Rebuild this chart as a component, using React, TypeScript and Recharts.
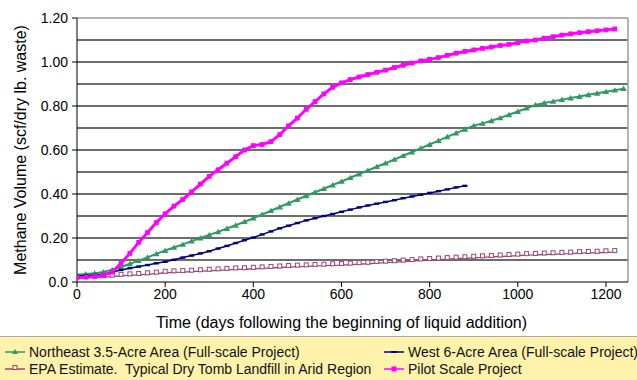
import { LineChart, Line, XAxis, YAxis, ReferenceLine, Label } from "recharts";

// days since beginning of liquid addition (20-day steps)
const days = [
  0, 20, 40, 60, 80, 100, 120, 140, 160, 180, 200, 220, 240, 260, 280, 300, 320, 340, 360, 380,
  400, 420, 440, 460, 480, 500, 520, 540, 560, 580, 600, 620, 640, 660, 680, 700, 720, 740, 760, 780,
  800, 820, 840, 860, 880, 900, 920, 940, 960, 980, 1000, 1020, 1040, 1060, 1080, 1100, 1120, 1140, 1160, 1180,
  1200, 1220, 1240,
];

const northeast = [
  0.032, 0.036, 0.04, 0.046, 0.056, 0.068, 0.083, 0.097, 0.112, 0.128, 0.143, 0.157, 0.171, 0.186, 0.2, 0.214, 0.228, 0.243, 0.258, 0.274,
  0.29, 0.307, 0.324, 0.341, 0.358, 0.375, 0.392, 0.408, 0.424, 0.441, 0.457, 0.474, 0.491, 0.507, 0.524, 0.54, 0.557, 0.574, 0.591, 0.608,
  0.625, 0.643, 0.66, 0.677, 0.694, 0.71, 0.721, 0.733, 0.746, 0.76, 0.775, 0.79, 0.805, 0.814, 0.821, 0.829, 0.836, 0.843, 0.851, 0.858,
  0.865, 0.872, 0.879,
];

const west = [
  0.028, 0.03, 0.032, 0.036, 0.045, 0.055, 0.063, 0.07, 0.077, 0.085, 0.092, 0.101, 0.111, 0.12, 0.13, 0.14, 0.152, 0.164, 0.177, 0.19,
  0.202, 0.216, 0.23, 0.244, 0.256, 0.268, 0.28, 0.29, 0.3, 0.309, 0.319, 0.329, 0.339, 0.348, 0.356, 0.364, 0.372, 0.381, 0.389, 0.397,
  0.405, 0.413, 0.421, 0.43, 0.437, null, null, null, null, null, null, null, null, null, null, null, null, null, null, null,
  null, null, null,
];

const epa = [
  0.02, 0.02, 0.021, 0.022, 0.025, 0.028, 0.03, 0.032, 0.035, 0.038, 0.042, 0.044, 0.045, 0.047, 0.049, 0.051, 0.053, 0.055, 0.057, 0.058,
  0.06, 0.062, 0.064, 0.066, 0.068, 0.07, 0.071, 0.073, 0.074, 0.076, 0.077, 0.079, 0.081, 0.083, 0.086, 0.088, 0.09, 0.093, 0.095, 0.098,
  0.1, 0.102, 0.104, 0.106, 0.108, 0.11, 0.112, 0.114, 0.116, 0.118, 0.12, 0.122, 0.123, 0.125, 0.126, 0.128, 0.129, 0.131, 0.132, 0.133,
  0.135, 0.136, null,
];

const pilot = [
  0.02, 0.022, 0.025, 0.03, 0.045, 0.085, 0.13, 0.18, 0.225, 0.27, 0.31, 0.345, 0.375, 0.41, 0.445, 0.48, 0.51, 0.54, 0.57, 0.6,
  0.62, 0.625, 0.638, 0.67, 0.71, 0.745, 0.785, 0.82, 0.855, 0.885, 0.905, 0.92, 0.932, 0.943, 0.953, 0.963, 0.975, 0.985, 0.995, 1.005,
  1.012, 1.02, 1.03, 1.04, 1.048, 1.055, 1.062, 1.068, 1.075, 1.08, 1.088, 1.095, 1.1, 1.108, 1.115, 1.122, 1.128, 1.133, 1.138, 1.142,
  1.146, 1.15, null,
];

const xTicks = [0, 200, 400, 600, 800, 1000, 1200];
const yTicks = [0, 0.2, 0.4, 0.6, 0.8, 1.0, 1.2];
const gridLevels = [0.1, 0.2, 0.3, 0.4, 0.5, 0.6, 0.7, 0.8, 0.9, 1.0, 1.1];

const legendNames = {
  northeast: "Northeast 3.5-Acre Area (Full-scale Project)",
  west: "West 6-Acre Area (Full-scale Project)",
  epa: "EPA Estimate.  Typical Dry Tomb Landfill in Arid Region",
  pilot: "Pilot Scale Project",
};

const data = days.map((d, i) => ({
  day: d,
  northeast: northeast[i],
  west: west[i],
  epa: epa[i],
  pilot: pilot[i],
}));

const GREEN = "#2f9a62";
const NAVY = "#000080";
const PLUM = "#9c4573";
const MAGENTA = "#ff00ff";
const FONT = "'Liberation Sans', Arial, sans-serif";

const ok = (p: any) => p && p.cx != null && p.cy != null && p.value != null;

const triangleDot = (p: any) =>
  ok(p) ? (
    <path key={p.index} d={`M${p.cx - 3.2},${p.cy + 2.4} L${p.cx + 3.2},${p.cy + 2.4} L${p.cx},${p.cy - 3} Z`} fill={GREEN} />
  ) : null;

const dashDot = (p: any) =>
  ok(p) ? <rect key={p.index} x={p.cx - 2.5} y={p.cy - 1.2} width={5} height={2.4} fill={NAVY} /> : null;

const hollowSquare = (p: any) =>
  ok(p) ? (
    <rect key={p.index} x={p.cx - 2} y={p.cy - 3.5} width={4} height={4} fill="#fff" stroke={PLUM} strokeWidth={1} />
  ) : null;

const filledSquare = (p: any) =>
  ok(p) ? <rect key={p.index} x={p.cx - 2.4} y={p.cy - 2.4} width={4.8} height={4.8} fill={MAGENTA} /> : null;

function LegendMark({ color, kind }: { color: string; kind: string }) {
  return (
    <svg width={22} height={10} style={{ position: "absolute", left: 0, top: 4 }}>
      <line x1={1} y1={5} x2={21} y2={5} stroke={color} strokeWidth={1.5} />
      {kind === "tri" && <path d="M8,7 L14,7 L11,2 Z" fill={color} />}
      {kind === "dash" && <rect x={8} y={4} width={6} height={2} fill={color} />}
      {kind === "hollow" && <rect x={9} y={1.5} width={4} height={4} fill="#fff2aa" stroke={color} strokeWidth={1} />}
      {kind === "square" && <rect x={8.5} y={2.5} width={5} height={5} fill={color} />}
    </svg>
  );
}

function LegendItem({ x, y, color, kind, text }: any) {
  return (
    <div style={{ position: "absolute", left: x, top: y, height: 18, whiteSpace: "pre" }}>
      <LegendMark color={color} kind={kind} />
      <span style={{ position: "absolute", left: 25, top: 0, lineHeight: "18px", fontSize: 14, color: "#111", whiteSpace: "pre" }}>
        {text}
      </span>
    </div>
  );
}

export default function App() {
  return (
    <div style={{ position: "absolute", left: 0, top: 0, width: 637, height: 380, background: "#fff", overflow: "hidden", fontFamily: FONT }}>
      <LineChart width={637} height={336} data={data} margin={{ top: 18, right: 9, left: 0, bottom: 0 }}>
        {gridLevels.map((g) => (
          <ReferenceLine key={g} y={g} stroke="#3c3c3c" strokeWidth={1.5} />
        ))}
        <ReferenceLine y={1.2} stroke="#9a9a9a" strokeWidth={1.5} />
        <ReferenceLine x={1250} stroke="#9a9a9a" strokeWidth={1.5} />
        <XAxis
          dataKey="day"
          type="number"
          domain={[0, 1250]}
          ticks={xTicks}
          height={54}
          tickSize={5}
          stroke="#000"
          tick={{ fill: "#000", fontSize: 14, fontFamily: FONT }}
          allowDataOverflow
        >
          <Label
            content={(p: any) => (
              <text
                x={p.viewBox.x + p.viewBox.width / 2 - 11}
                y={p.viewBox.y + 40}
                textAnchor="middle"
                dominantBaseline="central"
                fontSize={16}
                fontFamily={FONT}
                fill="#000"
              >
                Time (days following the beginning of liquid addition)
              </text>
            )}
          />
        </XAxis>
        <YAxis
          type="number"
          domain={[0, 1.2]}
          ticks={yTicks}
          width={77}
          tickSize={5}
          tickMargin={4}
          stroke="#000"
          tick={{ fill: "#000", fontSize: 14, fontFamily: FONT }}
          tickFormatter={(v: number) => (v === 0 ? "0.0" : v.toFixed(2))}
        >
          <Label
            content={(p: any) => {
              const cx = p.viewBox.x + 20;
              const cy = p.viewBox.y + p.viewBox.height / 2;
              return (
                <text
                  x={cx}
                  y={cy}
                  transform={`rotate(-90 ${cx} ${cy})`}
                  textAnchor="middle"
                  dominantBaseline="central"
                  fontSize={16}
                  fontFamily={FONT}
                  fill="#000"
                >
                  Methane Volume (scf/dry lb. waste)
                </text>
              );
            }}
          />
        </YAxis>
        <Line dataKey="epa" stroke={PLUM} strokeWidth={1.3} dot={hollowSquare} isAnimationActive={false} />
        <Line dataKey="northeast" stroke={GREEN} strokeWidth={2} dot={triangleDot} isAnimationActive={false} />
        <Line dataKey="west" stroke={NAVY} strokeWidth={1.5} dot={dashDot} isAnimationActive={false} />
        <Line dataKey="pilot" stroke={MAGENTA} strokeWidth={3} dot={filledSquare} isAnimationActive={false} />
      </LineChart>
      <div
        style={{
          position: "absolute",
          left: 0,
          top: 336,
          width: 637,
          height: 44,
          background: "#fff2aa",
          borderTop: "1px solid #a8a8a8",
        }}
      >
        <LegendItem x={4} y={6} color={GREEN} kind="tri" text={legendNames.northeast} />
        <LegendItem x={383} y={6} color={NAVY} kind="dash" text={legendNames.west} />
        <LegendItem x={4} y={23} color={PLUM} kind="hollow" text={legendNames.epa} />
        <LegendItem x={383} y={23} color={MAGENTA} kind="square" text={legendNames.pilot} />
      </div>
    </div>
  );
}
